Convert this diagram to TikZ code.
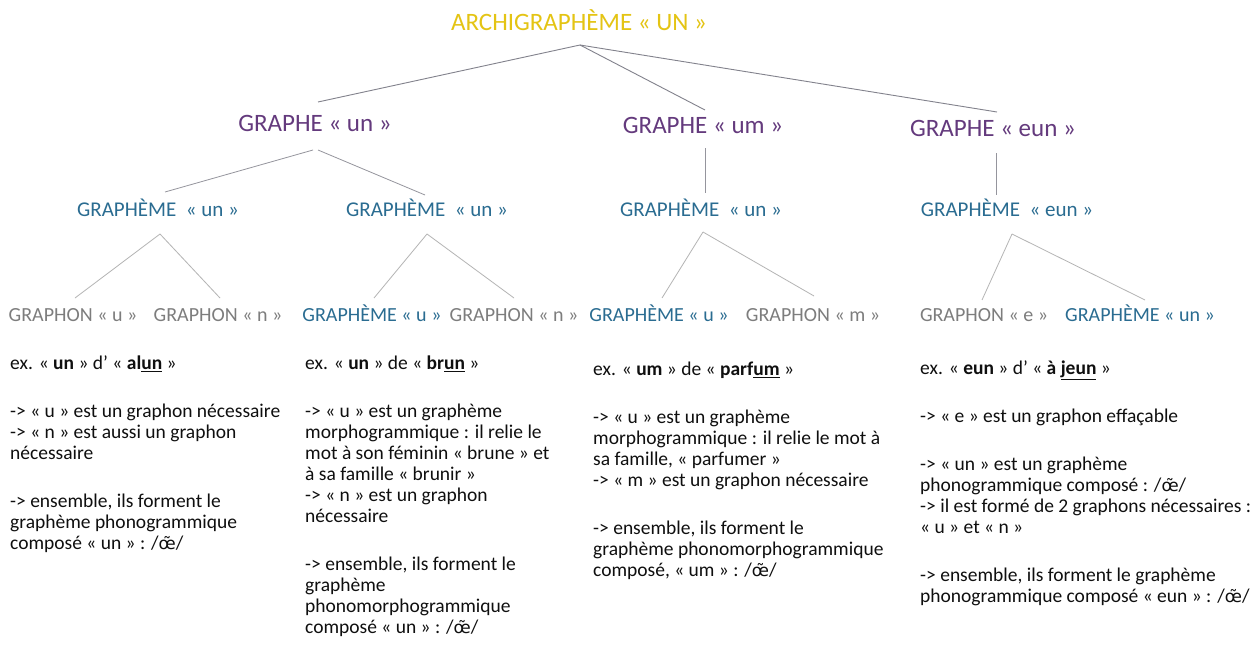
\documentclass[tikz,border=0pt]{standalone}
\usepackage{fontspec}
\setmainfont{Carlito}
\newfontfamily\ipafont{DejaVu Sans}[Scale=0.86]
\newcommand{\oenas}{{\ipafont œ̃}}
\usetikzlibrary{calc}
\definecolor{titlecol}{RGB}{228,196,20}
\definecolor{graphecol}{RGB}{100,58,125}
\definecolor{graphemecol}{RGB}{42,108,145}
\definecolor{graphoncol}{RGB}{125,125,125}
\definecolor{bodycol}{RGB}{15,15,15}
\definecolor{linecol}{RGB}{130,130,140}
\definecolor{lightline}{RGB}{180,180,180}
\tikzset{
  lbl/.style={inner sep=0pt, text height=0.66em, text depth=0pt},
  ttl/.style={lbl, text=titlecol, font=\fontsize{25}{30}\selectfont},
  gra/.style={lbl, text=graphecol, font=\fontsize{25}{30}\selectfont},
  gme/.style={lbl, text=graphemecol, font=\fontsize{21}{25}\selectfont},
  gmefour/.style={lbl, text=graphemecol, font=\fontsize{20}{24}\selectfont},
  gon/.style={lbl, text=graphoncol, font=\fontsize{20}{24}\selectfont},
  body/.style={inner sep=0pt, anchor=north west, align=left, text=bodycol, font=\fontsize{19.5}{21}\selectfont},
  topline/.style={draw=linecol, line width=0.9pt},
  midline/.style={draw=linecol!85, line width=0.8pt},
  lowline/.style={draw=lightline, line width=0.8pt}
}
\begin{document}
\begin{tikzpicture}[x=1pt, y=-1pt]
\useasboundingbox (0,0) rectangle (1255,650);
\fill[white] (0,0) rectangle (1255,650);

% level 0
\node[ttl] (title) at (579,27) {ARCHIGRAPHÈME « UN »};
% level 1
\node[gra] (g1) at (315,128) {GRAPHE « un »};
\node[gra] (g2) at (703,130) {GRAPHE « um »};
\node[gra] (g3) at (993,133) {GRAPHE « eun »};
% level 2
\node[gme] (h1) at (158,213) {GRAPHÈME\ \ « un »};
\node[gme] (h2) at (427,213) {GRAPHÈME\ \ « un »};
\node[gme] (h3) at (701,213) {GRAPHÈME\ \ « un »};
\node[gme] (h4) at (1007,213) {GRAPHÈME\ \ « eun »};
% level 3
\node[gon] (k1) at (73,318) {GRAPHON « u »};
\node[gon] (k2) at (218,318) {GRAPHON « n »};
\node[gmefour] (k3) at (372,318) {GRAPHÈME « u »};
\node[gon] (k4) at (514,318) {GRAPHON « n »};
\node[gmefour] (k5) at (659,318) {GRAPHÈME « u »};
\node[gon] (k6) at (813,318) {GRAPHON « m »};
\node[gon] (k7) at (984,318) {GRAPHON « e »};
\node[gmefour] (k8) at (1140,318) {GRAPHÈME « un »};

% connectors
\draw[topline] ($(title)+(1,18)$) -- ($(g1)+(3,-26)$);
\draw[topline] ($(title)+(1,18)$) -- ($(g2)+(2,-20)$);
\draw[topline] ($(title)+(1,18)$) -- ($(g3)+(4,-21)$);

\draw[midline] ($(g1)+(-2,22)$) -- ($(h1)+(7,-21)$);
\draw[midline] ($(g1)+(3,22)$) -- ($(h2)+(-2,-18)$);
\draw[midline] ($(g2)+(2,18)$) -- ($(h3)+(4,-20)$);
\draw[midline] ($(g3)+(3,20)$) -- ($(h4)+(-11,-18)$);

\draw[lowline] ($(h1)+(2,21)$) -- ($(k1)+(2,-20)$);
\draw[lowline] ($(h1)+(2,21)$) -- ($(k2)+(2,-20)$);
\draw[lowline] ($(h2)+(0,21)$) -- ($(k3)+(2,-20)$);
\draw[lowline] ($(h2)+(0,21)$) -- ($(k4)+(0,-20)$);
\draw[lowline] ($(h3)+(2,19)$) -- ($(k5)+(3,-20)$);
\draw[lowline] ($(h3)+(2,19)$) -- ($(k6)+(1,-22)$);
\draw[lowline] ($(h4)+(5,21)$) -- ($(k7)+(-2,-18)$);
\draw[lowline] ($(h4)+(5,21)$) -- ($(k8)+(5,-18)$);

% text blocks
\node[body] (b1) at (10,356) {ex. « \textbf{un} » d’ « \textbf{al\underline{un}} »\\[27pt]
-> « u » est un graphon nécessaire\\
-> « n » est aussi un graphon\\
nécessaire\\[27pt]
-> ensemble, ils forment le\\
graphème phonogrammique\\
composé « un » : /\oenas/};

\node[body] (b2) at (305,356) {ex. « \textbf{un} » de « \textbf{br\underline{un}} »\\[27pt]
-> « u » est un graphème\\
morphogrammique : il relie le\\
mot à son féminin « brune » et\\
à sa famille « brunir »\\
-> « n » est un graphon\\
nécessaire\\[27pt]
-> ensemble, ils forment le\\
graphème\\
phonomorphogrammique\\
composé « un » : /\oenas/};

\node[body] (b3) at (593,362) {ex. « \textbf{um} » de « \textbf{parf\underline{um}} »\\[27pt]
-> « u » est un graphème\\
morphogrammique : il relie le mot à\\
sa famille, « parfumer »\\
-> « m » est un graphon nécessaire\\[27pt]
-> ensemble, ils forment le\\
graphème phonomorphogrammique\\
composé, « um » : /\oenas/};

\node[body] (b4) at (920,361) {ex. « \textbf{eun} » d’ « \textbf{à \underline{jeun}} »\\[27pt]
-> « e » est un graphon effaçable\\[27pt]
-> « un » est un graphème\\
phonogrammique composé : /\oenas/\\
-> il est formé de 2 graphons nécessaires :\\
« u » et « n »\\[27pt]
-> ensemble, ils forment le graphème\\
phonogrammique composé « eun » : /\oenas/};
\end{tikzpicture}
\end{document}
